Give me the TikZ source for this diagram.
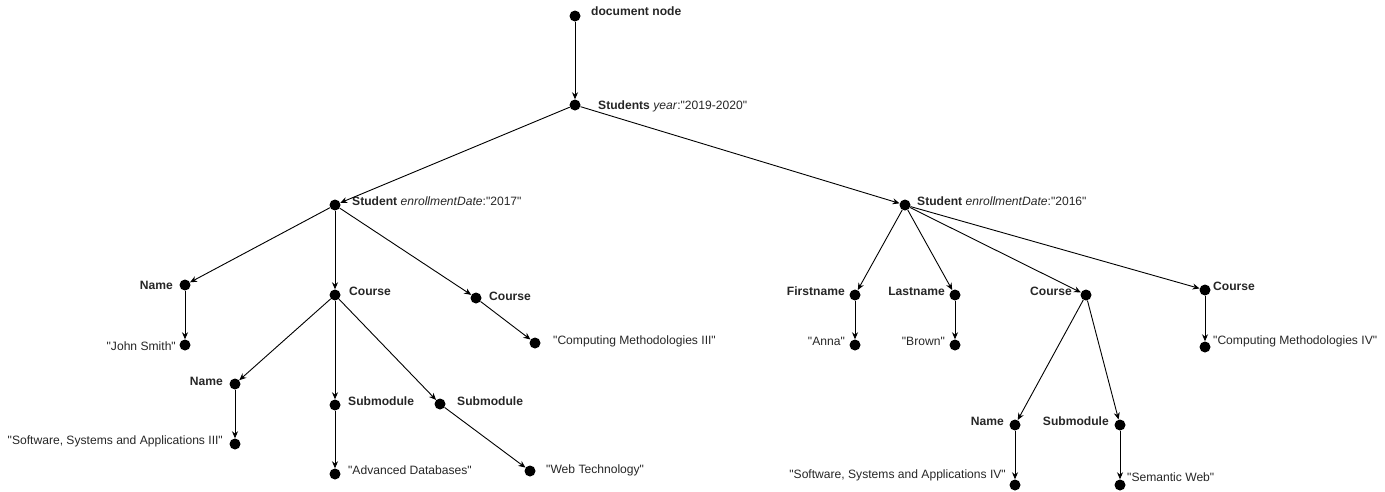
\documentclass[tikz,border=0pt]{standalone}
\usepackage{fontspec}
\setmainfont{Liberation Sans}[Ligatures=TeXOff]
\usetikzlibrary{arrows.meta}
\begin{document}
\begin{tikzpicture}[x=1pt,y=-1pt,
  dot/.style={circle,fill=black,inner sep=0pt,minimum size=11pt},
  lbl/.style={inner sep=0pt,font=\fontsize{12.1}{14}\selectfont,text=black!85},
  lr/.style={lbl,anchor=west},
  ll/.style={lbl,anchor=east},
  arr/.style={-{Stealth[length=7pt,width=6pt]},line width=0.9pt}]
\useasboundingbox (0,0) rectangle (1385,491);
% dots
\node[dot] (doc) at (575,16) {};
\node[dot] (students) at (575,105) {};
\node[dot] (stA) at (335,205) {};
\node[dot] (stB) at (905,205) {};
\node[dot] (nameA) at (185,285) {};
\node[dot] (courseA1) at (335,295) {};
\node[dot] (courseA2) at (476,298) {};
\node[dot] (john) at (185,345) {};
\node[dot] (cm3) at (535,343) {};
\node[dot] (nameA2) at (235,384) {};
\node[dot] (subA1) at (335,405) {};
\node[dot] (subA2) at (440,404) {};
\node[dot] (ssa3) at (235,444) {};
\node[dot] (adb) at (335,474) {};
\node[dot] (web) at (530,471) {};
\node[dot] (first) at (855,295) {};
\node[dot] (last) at (955,295) {};
\node[dot] (courseB1) at (1086,295) {};
\node[dot] (courseB2) at (1205,290) {};
\node[dot] (anna) at (855,345) {};
\node[dot] (brown) at (955,345) {};
\node[dot] (cm4) at (1205,347) {};
\node[dot] (nameB) at (1015,425) {};
\node[dot] (subB) at (1120,425) {};
\node[dot] (ssa4) at (1015,485) {};
\node[dot] (sem) at (1120,485) {};
% labels
\node[lr] (tdoc) at (591,11) {\textbf{document node}};
\node[lr] (tstudents) at (598,106) {\textbf{Students} \textit{year}:"2019-2020"};
\node[lr] (tstA) at (352,201) {\textbf{Student} \textit{enrollmentDate}:"2017"};
\node[lr] (tstB) at (917,201) {\textbf{Student} \textit{enrollmentDate}:"2016"};
\node[ll] (tnameA) at (173,285) {\textbf{Name}};
\node[lr] (tcourseA1) at (349,291) {\textbf{Course}};
\node[lr] (tcourseA2) at (489,296) {\textbf{Course}};
\node[ll] (tjohn) at (176,346) {"John Smith"};
\node[lr] (tcm3) at (553,341) {"Computing Methodologies III"};
\node[ll] (tnameA2) at (223,381) {\textbf{Name}};
\node[lr] (tsubA1) at (348,401) {\textbf{Submodule}};
\node[lr] (tsubA2) at (457,401) {\textbf{Submodule}};
\node[ll] (tssa3) at (223,441) {"Software, Systems and Applications III"};
\node[lr] (tadb) at (348,470) {"Advanced Databases"};
\node[lr] (tweb) at (546,470) {"Web Technology"};
\node[ll] (tfirst) at (845,291) {\textbf{Firstname}};
\node[ll] (tlast) at (945,291) {\textbf{Lastname}};
\node[ll] (tcourseB1) at (1072,291) {\textbf{Course}};
\node[lr] (tcourseB2) at (1213,286) {\textbf{Course}};
\node[ll] (tanna) at (845,341) {"Anna"};
\node[ll] (tbrown) at (945,341) {"Brown"};
\node[lr] (tcm4) at (1213,341) {"Computing Methodologies IV"};
\node[ll] (tnameB) at (1004,421) {\textbf{Name}};
\node[ll] (tsubB) at (1109,421) {\textbf{Submodule}};
\node[ll] (tssa4) at (1006,475) {"Software, Systems and Applications IV"};
\node[lr] (tsem) at (1127,477) {"Semantic Web"};
% edges
\draw[arr] (doc) -- (students);
\draw[arr] (students) -- (stA);
\draw[arr] (students) -- (stB);
\draw[arr] (stA) -- (nameA);
\draw[arr] (stA) -- (courseA1);
\draw[arr] (stA) -- (courseA2);
\draw[arr] (nameA) -- (john);
\draw[arr] (courseA2) -- (cm3);
\draw[arr] (courseA1) -- (nameA2);
\draw[arr] (courseA1) -- (subA1);
\draw[arr] (courseA1) -- (subA2);
\draw[arr] (nameA2) -- (ssa3);
\draw[arr] (subA1) -- (adb);
\draw[arr] (subA2) -- (web);
\draw[arr] (stB) -- (first);
\draw[arr] (stB) -- (last);
\draw[arr] (stB) -- (courseB1);
\draw[arr] (stB) -- (courseB2);
\draw[arr] (first) -- (anna);
\draw[arr] (last) -- (brown);
\draw[arr] (courseB2) -- (cm4);
\draw[arr] (courseB1) -- (nameB);
\draw[arr] (courseB1) -- (subB);
\draw[arr] (nameB) -- (ssa4);
\draw[arr] (subB) -- (sem);
\end{tikzpicture}
\end{document}
